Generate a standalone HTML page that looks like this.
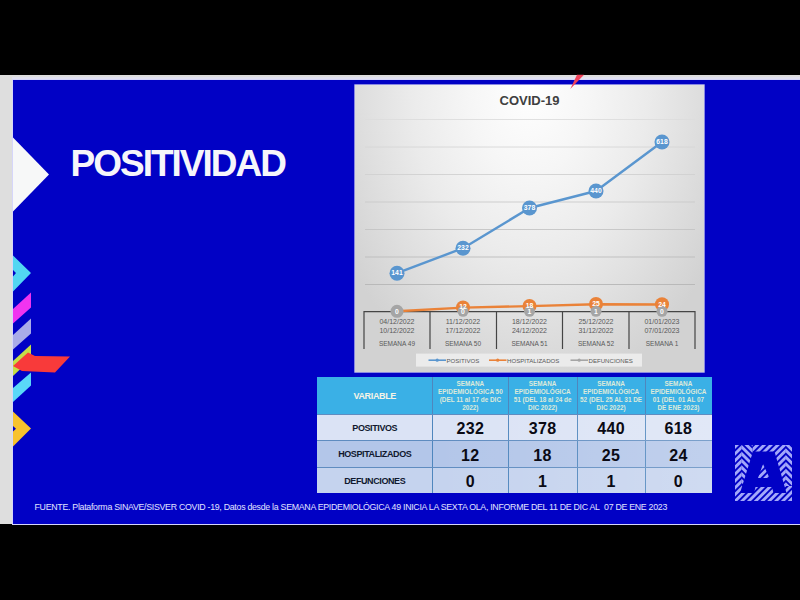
<!DOCTYPE html>
<html><head><meta charset="utf-8">
<style>
html,body{margin:0;padding:0;}
body{width:800px;height:600px;background:#000;position:relative;overflow:hidden;font-family:"Liberation Sans",sans-serif;}
.abs{position:absolute;}
#gray{left:0;top:75px;width:800px;height:449px;background:#dedede;}
#blue{left:13px;top:80px;width:787px;height:444px;background:#0101c5;box-shadow:0 0 0 1px #d6d6fa, 0 -2px 0 1px #e0e0f0;}
#title{left:70.5px;top:143.8px;font-size:37px;font-weight:bold;color:#f6f6fa;letter-spacing:-2px;white-space:nowrap;line-height:40px;}
#panel{left:355px;top:85px;width:349px;height:287.3px;background:radial-gradient(ellipse 62% 110% at 50% 0%, #ffffff 0%, #f6f6f6 28%, #ebebeb 55%, #dcdcdc 82%, #d2d2d2 100%);box-shadow:0 0 0 0.7px #c4c4ee;}
#foot{left:34.5px;top:501.8px;font-size:8.8px;letter-spacing:-0.285px;color:#e2e4ff;white-space:nowrap;line-height:11px;}
#tbl{left:317px;top:377px;width:394.7px;height:115.8px;}
.c{position:absolute;display:flex;align-items:center;justify-content:center;text-align:center;box-sizing:border-box;}
.r0{background:#3ab0e6;color:rgba(244,244,216,0.88);font-weight:bold;font-size:6.4px;line-height:7.8px;padding-top:0.4px;}
.r0.l{font-size:9px;letter-spacing:-0.35px;padding-top:2.5px;color:#f6f4e6;}
.r1{background:#dbe3f5;}
.r2{background:#b3c6e9;}
.r3{background:#c5d3ee;}
.r1.l,.r2.l,.r3.l{font-size:9px;font-weight:bold;color:#10182e;letter-spacing:-0.4px;padding-top:0.6px;}
.r1.n,.r2.n,.r3.n{font-size:16px;font-weight:bold;color:#0a0a14;padding-top:3.5px;letter-spacing:0.4px;}
.c span{position:relative;z-index:2;}
.rg{z-index:1;position:absolute;left:0;top:37.6px;width:394.7px;height:78.2px;background:linear-gradient(to right,rgba(255,255,255,0) 30%,rgba(255,255,255,0.18) 100%);pointer-events:none;}
.vl{position:absolute;top:0;width:1px;height:115.8px;background:#4f86bd;}
.hl{position:absolute;left:0;height:1px;width:394.7px;background:#5f8cc0;}
</style></head><body>
<div class="abs" id="gray"></div>
<div class="abs" id="blue"></div>

<svg class="abs" style="left:0;top:0" width="800" height="600" viewBox="0 0 800 600">
  <!-- left decorations -->
  <polygon points="13,137.5 49,174.5 13,211.5" fill="#f7f8f8"/>
  <polygon points="13,255.5 31,273 13,291.5 13,276.5 16,273 13,270" fill="#52d6f2"/>
  <polygon points="31,292.5 31,307.5 13,323.5 13,309" fill="#f034f0"/>
  <polygon points="31,318.5 31,333.5 13,349.5 13,335" fill="#a9abe8"/>
  <polygon points="31,344.5 31,359 13,376 13,361" fill="#c6de48"/>
  <polygon points="31,372.5 31,385.5 13,402 13,388" fill="#5ad8f8"/>
  <polygon points="13,366 28,352.5 35,356 70,356.5 55,372.5 22,371" fill="#f83a3a"/>
  <polygon points="13,411.5 31,428.5 13,446.5 13,431.5 16,428.7 13,426" fill="#f8c22e"/>
</svg>

<div class="abs" id="title">POSITIVIDAD</div>
<div class="abs" id="panel"></div>

<svg class="abs" style="left:0;top:0" width="800" height="600" viewBox="0 0 800 600" font-family="Liberation Sans, sans-serif">
  <!-- gridlines -->
  <g stroke-width="0.9">
    <line x1="365" x2="695" y1="119.5" y2="119.5" stroke="#dcdcdc"/>
    <line x1="365" x2="695" y1="147" y2="147" stroke="#d6d6d6"/>
    <line x1="365" x2="695" y1="174.5" y2="174.5" stroke="#d0d0d0"/>
    <line x1="365" x2="695" y1="202" y2="202" stroke="#cacaca"/>
    <line x1="365" x2="695" y1="229.5" y2="229.5" stroke="#c4c4c4"/>
    <line x1="365" x2="695" y1="257" y2="257" stroke="#bcbcbc"/>
    <line x1="365" x2="695" y1="284.5" y2="284.5" stroke="#b6b6b6"/>
  </g>
  <text x="529.5" y="104.9" text-anchor="middle" font-size="13" font-weight="bold" fill="#404040">COVID-19</text>
  <!-- axis box -->
  <path d="M364,349 V311.7 H695 V349 M430,311.7 V349 M496.5,311.7 V349 M562.5,311.7 V349 M629,311.7 V349" fill="none" stroke="#454545" stroke-width="1.2"/>
  <g font-size="7" fill="#595959" text-anchor="middle">
    <text x="397" y="324">04/12/2022</text><text x="397" y="333.2">10/12/2022</text>
    <text x="463" y="324">11/12/2022</text><text x="463" y="333.2">17/12/2022</text>
    <text x="529.5" y="324">18/12/2022</text><text x="529.5" y="333.2">24/12/2022</text>
    <text x="596" y="324">25/12/2022</text><text x="596" y="333.2">31/12/2022</text>
    <text x="662" y="324">01/01/2023</text><text x="662" y="333.2">07/01/2023</text>
  </g>
  <g font-size="6.5" fill="#595959" text-anchor="middle">
    <text x="397" y="346.3">SEMANA 49</text>
    <text x="463" y="346.3">SEMANA 50</text>
    <text x="529.5" y="346.3">SEMANA 51</text>
    <text x="596" y="346.3">SEMANA 52</text>
    <text x="662" y="346.3">SEMANA 1</text>
  </g>
  <!-- series -->
  <polyline points="397,273.2 463,248.2 529.5,208 596,191 662,142" fill="none" stroke="#5a96cf" stroke-width="2.4" stroke-linejoin="round"/>
  <polyline points="397,311.3 463,307.6 529.5,306.1 596,304.2 662,304.5" fill="none" stroke="#ea8238" stroke-width="2.4" stroke-linejoin="round"/>
  <g fill="#ea8238">
    <circle cx="463" cy="307.4" r="7"/><circle cx="529.5" cy="305.9" r="7"/><circle cx="596" cy="304" r="7"/><circle cx="662" cy="304.3" r="7"/>
  </g>
  <g fill="#a5a5a5">
    <circle cx="397" cy="311.3" r="6.5"/><circle cx="463" cy="311.3" r="5.5"/><circle cx="529.5" cy="311.3" r="5.5"/><circle cx="596" cy="311.3" r="5.5"/><circle cx="662" cy="311.3" r="5.5"/>
  </g>
  <g fill="#5a96cf">
    <circle cx="397" cy="273.2" r="7.5"/><circle cx="463" cy="248.2" r="7.5"/><circle cx="529.5" cy="208" r="7.5"/><circle cx="596" cy="191" r="7.5"/><circle cx="662" cy="142" r="7.5"/>
  </g>
  <g font-size="6.8" font-weight="bold" fill="#fff" text-anchor="middle">
    <text x="397" y="275.4">141</text><text x="463" y="250.4">232</text><text x="529.5" y="210.2">378</text><text x="596" y="193.2">440</text><text x="662" y="144.2">618</text>
    <text x="463" y="309.2">12</text><text x="529.5" y="307.8">18</text><text x="596" y="306.4">25</text><text x="662" y="306.7">24</text>
    <text x="397" y="313.7">0</text><text x="463" y="314">0</text><text x="529.5" y="314">1</text><text x="596" y="314">1</text><text x="662" y="314">0</text>
  </g>
  <!-- legend -->
  <rect x="416" y="353.6" width="226" height="13" fill="#ebebeb"/>
  <g stroke-width="1.6">
    <line x1="428.5" x2="446" y1="360.2" y2="360.2" stroke="#5a96cf"/><circle cx="437.2" cy="360.2" r="1.6" fill="#5a96cf"/>
    <line x1="489" x2="506.5" y1="360.2" y2="360.2" stroke="#ea8238"/><circle cx="497.7" cy="360.2" r="1.6" fill="#ea8238"/>
    <line x1="570.5" x2="588" y1="360.2" y2="360.2" stroke="#a5a5a5"/><circle cx="579.2" cy="360.2" r="1.6" fill="#a5a5a5"/>
  </g>
  <g font-size="6.1" fill="#595959">
    <text x="446.5" y="362.5">POSITIVOS</text>
    <text x="507" y="362.5">HOSPITALIZADOS</text>
    <text x="588.5" y="362.5">DEFUNCIONES</text>
  </g>
  <!-- red fleck -->
  <polygon points="577,74.7 584,74.7 570.3,89" fill="#f0425a"/>
</svg>

<div class="abs" id="tbl">
<div class="c r0 l" style="left:0.0px;top:0.0px;width:115.5px;height:37.6px"><span>VARIABLE</span></div>
<div class="c r0 n" style="left:115.5px;top:0.0px;width:75.7px;height:37.6px"><span>SEMANA<br>EPIDEMIOLÓGICA 50<br>(DEL 11 al 17 de DIC<br>2022)</span></div>
<div class="c r0 n" style="left:191.2px;top:0.0px;width:68.8px;height:37.6px"><span>SEMANA<br>EPIDEMIOLÓGICA<br>51 (DEL 18 al 24 de<br>DIC 2022)</span></div>
<div class="c r0 n" style="left:260.0px;top:0.0px;width:68.2px;height:37.6px"><span>SEMANA<br>EPIDEMIOLÓGICA<br>52 (DEL 25 AL 31 DE<br>DIC 2022)</span></div>
<div class="c r0 n" style="left:328.2px;top:0.0px;width:66.5px;height:37.6px"><span>SEMANA<br>EPIDEMIOLÓGICA<br>01 (DEL 01 AL 07<br>DE ENE 2023)</span></div>
<div class="c r1 l" style="left:0.0px;top:37.6px;width:115.5px;height:25.5px"><span>POSITIVOS</span></div>
<div class="c r1 n" style="left:115.5px;top:37.6px;width:75.7px;height:25.5px"><span>232</span></div>
<div class="c r1 n" style="left:191.2px;top:37.6px;width:68.8px;height:25.5px"><span>378</span></div>
<div class="c r1 n" style="left:260.0px;top:37.6px;width:68.2px;height:25.5px"><span>440</span></div>
<div class="c r1 n" style="left:328.2px;top:37.6px;width:66.5px;height:25.5px"><span>618</span></div>
<div class="c r2 l" style="left:0.0px;top:63.1px;width:115.5px;height:27.6px"><span>HOSPITALIZADOS</span></div>
<div class="c r2 n" style="left:115.5px;top:63.1px;width:75.7px;height:27.6px"><span>12</span></div>
<div class="c r2 n" style="left:191.2px;top:63.1px;width:68.8px;height:27.6px"><span>18</span></div>
<div class="c r2 n" style="left:260.0px;top:63.1px;width:68.2px;height:27.6px"><span>25</span></div>
<div class="c r2 n" style="left:328.2px;top:63.1px;width:66.5px;height:27.6px"><span>24</span></div>
<div class="c r3 l" style="left:0.0px;top:90.7px;width:115.5px;height:25.1px"><span>DEFUNCIONES</span></div>
<div class="c r3 n" style="left:115.5px;top:90.7px;width:75.7px;height:25.1px"><span>0</span></div>
<div class="c r3 n" style="left:191.2px;top:90.7px;width:68.8px;height:25.1px"><span>1</span></div>
<div class="c r3 n" style="left:260.0px;top:90.7px;width:68.2px;height:25.1px"><span>1</span></div>
<div class="c r3 n" style="left:328.2px;top:90.7px;width:66.5px;height:25.1px"><span>0</span></div>
<div class="rg"></div>
<div class="vl" style="left:115.0px"></div>
<div class="vl" style="left:190.7px"></div>
<div class="vl" style="left:259.5px"></div>
<div class="vl" style="left:327.7px"></div>
<div class="hl" style="top:37.1px"></div>
<div class="hl" style="top:62.6px"></div>
<div class="hl" style="top:90.2px"></div>
</div>

<!-- logo -->
<svg class="abs" style="left:735px;top:445px" width="57" height="56" viewBox="0 0 57 56">
  <defs>
    <pattern id="fw" width="4.8" height="4.8" patternUnits="userSpaceOnUse" patternTransform="rotate(-45)"><rect width="4.8" height="2.9" fill="#a3a8fa"/></pattern>
    <pattern id="bw" width="4.8" height="4.8" patternUnits="userSpaceOnUse" patternTransform="rotate(45)"><rect width="4.8" height="2.9" fill="#a3a8fa"/></pattern>
  </defs>
  <rect x="0" y="0" width="57" height="56" fill="url(#fw)"/>
  <rect x="6.79" y="0" width="10.7" height="41" fill="#0101c5"/><rect x="6.79" y="0" width="10.7" height="41" fill="url(#bw)"/>
  <rect x="50.9" y="0" width="6.1" height="41" fill="#0101c5"/><rect x="50.9" y="0" width="6.1" height="41" fill="url(#bw)"/>
  <path d="M18,6.5 H39.5 L51.5,48 H38.5 L37,42 H20.5 L19,48 H5 Z M28,19 L23,33 H34.5 Z" fill="#0101c5" fill-rule="evenodd"/>
</svg>

<div class="abs" id="foot">FUENTE. Plataforma SINAVE/SISVER COVID -19, Datos desde la SEMANA EPIDEMIOLÓGICA 49 INICIA LA SEXTA OLA, INFORME DEL 11 DE DIC AL&nbsp; 07 DE ENE 2023</div>
</body></html>
